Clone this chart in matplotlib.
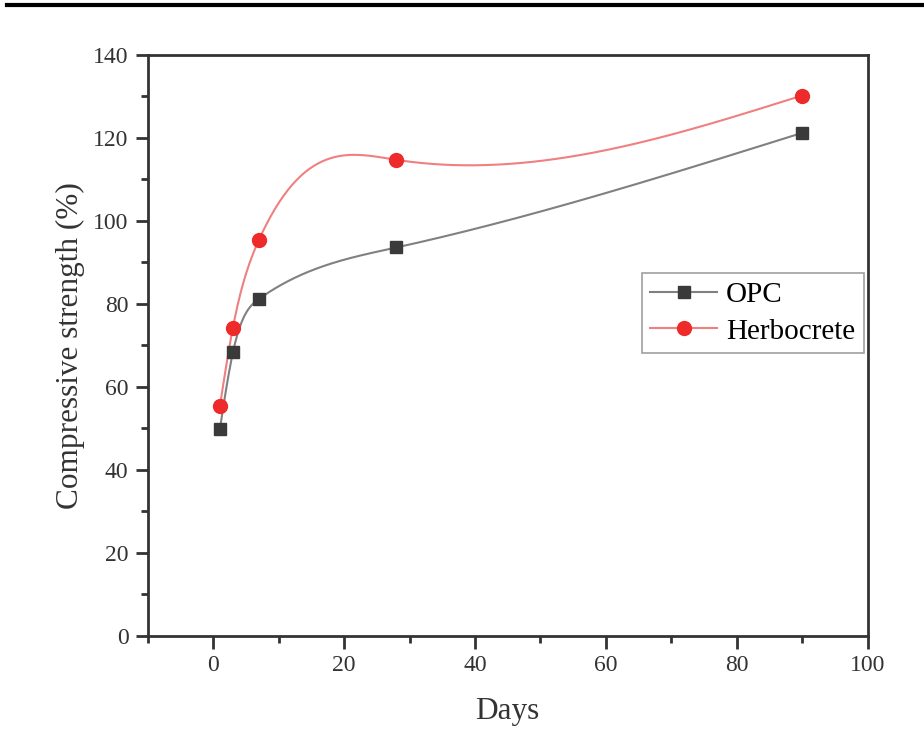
import numpy as np
import matplotlib.pyplot as plt
from matplotlib.lines import Line2D

days = [1, 3, 7, 28, 90]
opc = [49.8, 68.3, 81.2, 93.6, 121.2]
herbocrete = [55.3, 74.3, 95.5, 114.7, 130.2]


def natural_spline(x, y, n=400):
    # plain natural cubic spline, used only to draw the smooth connecting line
    x = np.asarray(x, float)
    y = np.asarray(y, float)
    k = len(x)
    h = np.diff(x)
    A = np.zeros((k, k))
    b = np.zeros(k)
    A[0, 0] = A[-1, -1] = 1
    for i in range(1, k - 1):
        A[i, i - 1] = h[i - 1]
        A[i, i] = 2 * (h[i - 1] + h[i])
        A[i, i + 1] = h[i]
        b[i] = 6 * ((y[i + 1] - y[i]) / h[i] - (y[i] - y[i - 1]) / h[i - 1])
    M = np.linalg.solve(A, b)
    xs = np.linspace(x[0], x[-1], n)
    idx = np.clip(np.searchsorted(x, xs) - 1, 0, k - 2)
    x0, x1 = x[idx], x[idx + 1]
    hh = x1 - x0
    t0, t1 = x1 - xs, xs - x0
    ys = (M[idx] * t0 ** 3 + M[idx + 1] * t1 ** 3) / (6 * hh) \
        + (y[idx] / hh - M[idx] * hh / 6) * t0 \
        + (y[idx + 1] / hh - M[idx + 1] * hh / 6) * t1
    return xs, ys


plt.rcParams['font.family'] = ['Liberation Serif', 'DejaVu Serif']

fig = plt.figure(figsize=(9.24, 7.31), dpi=100)
ax = fig.add_axes([0.160, 0.130, 0.779, 0.795])

fig.add_artist(Line2D([0.008, 1.0], [0.993, 0.993], color='black', lw=3,
                      transform=fig.transFigure))

xs, ys = natural_spline(days, opc)
ax.plot(xs, ys, color='#808080', lw=1.5, zorder=2)
ax.plot(days, opc, ls='none', marker='s', ms=9, color='#3a3a3a', zorder=3)

xs, ys = natural_spline(days, herbocrete)
ax.plot(xs, ys, color='#f08080', lw=1.5, zorder=2)
ax.plot(days, herbocrete, ls='none', marker='o', ms=10, color='#ee2a2a', zorder=3)

h1 = Line2D([], [], color='#808080', lw=1.5, marker='s', ms=9,
            mfc='#3a3a3a', mec='#3a3a3a')
h2 = Line2D([], [], color='#f08080', lw=1.5, marker='o', ms=10,
            mfc='#ee2a2a', mec='#ee2a2a')
leg = ax.legend([h1, h2], ['OPC', 'Herbocrete'], loc='upper right',
                bbox_to_anchor=(0.995, 0.625), fontsize=21, fancybox=False,
                edgecolor='#888888', handlelength=2.3, handletextpad=0.3,
                borderpad=0.3, labelspacing=0.35, borderaxespad=0)
leg.get_frame().set_linewidth(1.2)

ax.set_xlim(-10, 100)
ax.set_ylim(0, 140)
ax.set_xticks([0, 20, 40, 60, 80, 100])
ax.set_xticks([-10, 10, 30, 50, 70, 90], minor=True)
ax.set_yticks(np.arange(0, 141, 20))
ax.set_yticks(np.arange(10, 140, 20), minor=True)

for s in ax.spines.values():
    s.set_linewidth(2)
    s.set_color('#333333')
ax.tick_params(which='both', direction='out', colors='#333333', width=2,
               labelsize=17, labelcolor='#333333', pad=5)
ax.tick_params(which='major', length=9)
ax.tick_params(which='minor', length=5)

ax.set_xlabel('Days', fontsize=22.5, color='#333333', labelpad=15)
ax.set_ylabel('Compressive strength (%)', fontsize=22.5, color='#333333', labelpad=6)

fig.savefig('out.png', dpi=100)
